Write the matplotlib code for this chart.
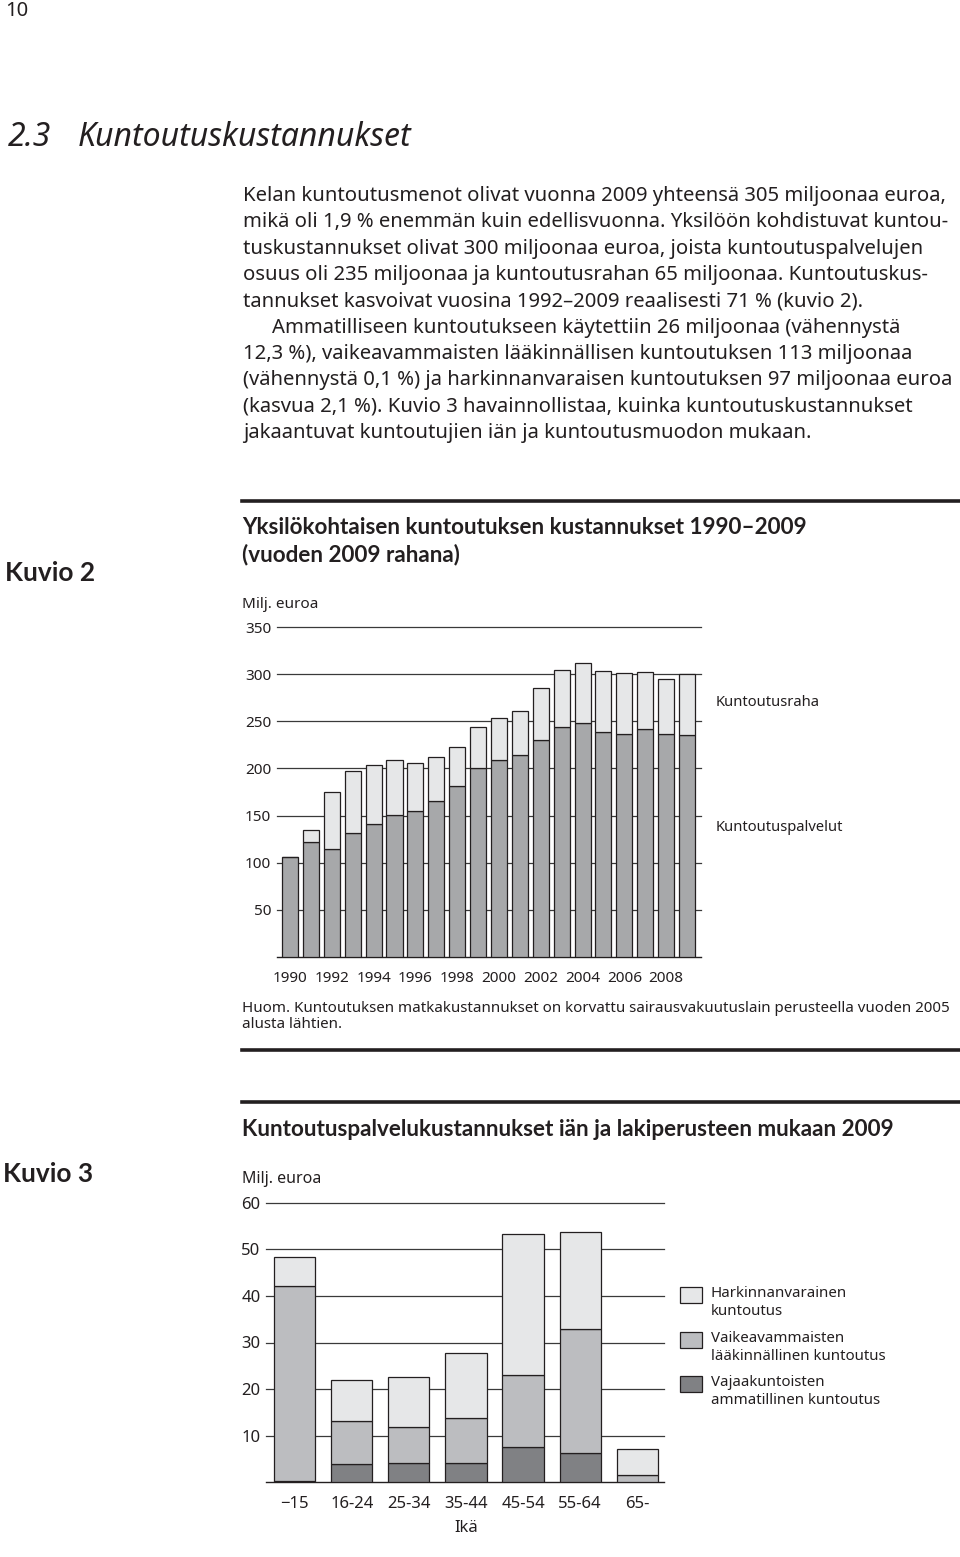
import numpy as np
import matplotlib
matplotlib.use("Agg")
import matplotlib.pyplot as plt
from matplotlib.patches import Rectangle

plt.rcParams['font.family'] = ['Noto Sans', 'DejaVu Sans']

# ---------------- data ----------------
years = list(range(1990, 2010))
year_labels = [str(y) for y in years[::2]]
palvelut = [106, 121.5, 115, 132, 141, 151, 155, 165, 181, 200,
            209, 214, 230, 244, 248, 239, 237, 242, 236, 235]
raha = [0, 13.5, 60, 65, 63, 58, 50.5, 47.5, 42, 44,
        44, 47, 55, 60, 64, 64, 64, 60.5, 58.5, 65]
yticks1 = [50, 100, 150, 200, 250, 300, 350]

age_groups = ['\u221215', '16-24', '25-34', '35-44', '45-54', '55-64', '65-']
vajaakuntoiset = [0.3, 3.9, 4.1, 4.1, 7.5, 6.2, 0.0]
vaikeavammaiset = [41.8, 9.3, 7.8, 9.6, 15.5, 26.6, 1.5]
harkinnanvarainen = [6.3, 8.8, 10.6, 14.1, 30.2, 21.0, 5.7]
yticks2 = [10, 20, 30, 40, 50, 60]

legend_labels = ['Harkinnanvarainen\nkuntoutus',
                 'Vaikeavammaisten\nlääkinnällinen kuntoutus',
                 'Vajaakuntoisten\nammatillinen kuntoutus']

body_p1 = ["Kelan kuntoutusmenot olivat vuonna 2009 yhteensä 305 miljoonaa euroa,",
           "mikä oli 1,9 % enemmän kuin edellisvuonna. Yksilöön kohdistuvat kuntou-",
           "tuskustannukset olivat 300 miljoonaa euroa, joista kuntoutuspalvelujen",
           "osuus oli 235 miljoonaa ja kuntoutusrahan 65 miljoonaa. Kuntoutuskus-",
           "tannukset kasvoivat vuosina 1992\u20132009 reaalisesti 71 % (kuvio 2)."]
body_p2 = ["Ammatilliseen kuntoutukseen käytettiin 26 miljoonaa (vähennystä",
           "12,3 %), vaikeavammaisten lääkinnällisen kuntoutuksen 113 miljoonaa",
           "(vähennystä 0,1 %) ja harkinnanvaraisen kuntoutuksen 97 miljoonaa euroa",
           "(kasvua 2,1 %). Kuvio 3 havainnollistaa, kuinka kuntoutuskustannukset",
           "jakaantuvat kuntoutujien iän ja kuntoutusmuodon mukaan."]

# ---------------- style ----------------
W, H = 960, 1557
EDGE = '#231f20'
GRID = '#3a3a3a'
C1_DARK = '#a7a8aa'
C1_LIGHT = '#e6e7e8'
C2_DARK = '#808184'
C2_MID = '#bcbdc0'
C2_LIGHT = '#e6e7e8'
TXT = '#231f20'
BOLD_FAMILY = ['Lato', 'Roboto', 'DejaVu Sans']

fig = plt.figure(figsize=(W / 100, H / 100), dpi=100)
renderer = fig.canvas.get_renderer()


def T(x, y, s, **kw):
    kw.setdefault('va', 'center')
    kw.setdefault('ha', 'left')
    kw.setdefault('color', TXT)
    return fig.text(x / W, 1 - y / H, s, **kw)


def fit_size(s, target_px, **kw):
    """font size so that string s spans target_px pixels"""
    t = fig.text(0, 0, s, fontsize=20, **kw)
    w = t.get_window_extent(renderer).width
    t.remove()
    return 20 * target_px / w


def hline(x0, x1, y, lw=2.6):
    fig.add_artist(plt.Line2D([x0 / W, x1 / W], [1 - y / H, 1 - y / H],
                              color=EDGE, lw=lw, transform=fig.transFigure))


def axes_px(x0, y0, x1, y1):
    return fig.add_axes([x0 / W, 1 - y1 / H, (x1 - x0) / W, (y1 - y0) / H])


def style_axes(ax, yt, fs, ypad):
    ax.set_yticks(yt)
    ax.set_yticklabels([str(v) for v in yt], fontsize=fs, color=TXT)
    ax.tick_params(axis='both', length=0)
    ax.tick_params(axis='y', pad=ypad)
    for s in ['top', 'left', 'right']:
        ax.spines[s].set_visible(False)
    ax.spines['bottom'].set_color(EDGE)
    ax.spines['bottom'].set_linewidth(1.0)
    ax.yaxis.grid(True, color=GRID, lw=0.9)
    for gl in ax.get_ygridlines():
        gl.set_clip_on(False)
    ax.set_axisbelow(True)
    ax.patch.set_visible(False)


# ---------------- page text ----------------
T(5, 11, '10', fontsize=14.5)
T(8, 138, '2.3', fontsize=23, style='italic')
T(78, 138, 'Kuntoutuskustannukset', fontsize=23, style='italic')

y = 196
step = 26.3
BODY_FS = 14.6
for line in body_p1:
    T(243, y, line, fontsize=BODY_FS)
    y += step
for i, line in enumerate(body_p2):
    T(272 if i == 0 else 243, y, line, fontsize=BODY_FS)
    y += step

# ---------------- Kuvio 2 ----------------
bkw = dict(family=BOLD_FAMILY, fontweight='bold')
title1 = 'Yksilökohtaisen kuntoutuksen kustannukset 1990\u20132009'
title2 = 'Kuntoutuspalvelukustannukset iän ja lakiperusteen mukaan 2009'
fs_t1 = fit_size(title1, 566, **bkw)
fs_t2 = fit_size(title2, 654, **bkw)
fs_kuvio = fit_size('Kuvio 2', 90, **bkw)

hline(242, 960, 500.5)
T(5, 573, 'Kuvio 2', fontsize=fs_kuvio, **bkw)
T(242, 527, title1, fontsize=fs_t1, **bkw)
T(242, 555, '(vuoden 2009 rahana)', fontsize=fs_t1, **bkw)
T(242, 604, 'Milj. euroa', fontsize=11)

ax1 = axes_px(276.7, 627, 701, 957)
x1 = np.arange(len(years))
ax1.bar(x1, palvelut, width=0.77, color=C1_DARK, edgecolor=EDGE, lw=0.9, zorder=3)
ax1.bar(x1, raha, bottom=palvelut, width=0.77, color=C1_LIGHT, edgecolor=EDGE,
        lw=0.9, zorder=3)
ax1.set_xlim(-0.64, len(years) - 1 + 0.67)
ax1.set_ylim(0, 350)
style_axes(ax1, yticks1, 11, 4)
ax1.set_xticks(x1[::2])
ax1.set_xticklabels(year_labels, fontsize=11, color=TXT)
ax1.tick_params(axis='x', pad=10)

T(716, 702, 'Kuntoutusraha', fontsize=10.6)
T(716, 828, 'Kuntoutuspalvelut', fontsize=10.6)

T(242, 1008, 'Huom. Kuntoutuksen matkakustannukset on korvattu sairausvakuutuslain '
  'perusteella vuoden 2005', fontsize=10.9)
T(242, 1025, 'alusta lähtien.', fontsize=10.9)
hline(242, 960, 1050)

# ---------------- Kuvio 3 ----------------
hline(242, 960, 1101.7)
T(242, 1129, title2, fontsize=fs_t2, **bkw)
T(3, 1174, 'Kuvio 3', fontsize=fs_kuvio, **bkw)
T(242, 1179, 'Milj. euroa', fontsize=11.5)

ax2 = axes_px(266, 1202.7, 664, 1482.3)
x2 = np.arange(len(age_groups))
b_dark = np.array(vajaakuntoiset)
b_mid = np.array(vaikeavammaiset)
b_light = np.array(harkinnanvarainen)
ax2.bar(x2, b_dark, width=0.72, color=C2_DARK, edgecolor=EDGE, lw=0.9, zorder=3)
ax2.bar(x2, b_mid, bottom=b_dark, width=0.72, color=C2_MID, edgecolor=EDGE,
        lw=0.9, zorder=3)
ax2.bar(x2, b_light, bottom=b_dark + b_mid, width=0.72, color=C2_LIGHT,
        edgecolor=EDGE, lw=0.9, zorder=3)
ax2.set_xlim(-0.504, len(age_groups) - 1 + 0.47)
ax2.set_ylim(0, 60)
style_axes(ax2, yticks2, 12, 4)
ax2.set_xticks(x2)
ax2.set_xticklabels(age_groups, fontsize=12, color=TXT)
ax2.tick_params(axis='x', pad=10)
T(466, 1528, 'Ikä', fontsize=12, ha='center')

# legend (manual)
leg_colors = [C2_LIGHT, C2_MID, C2_DARK]
for i, (lab, col) in enumerate(zip(legend_labels, leg_colors)):
    top = 1287 + i * 44.7
    fig.add_artist(Rectangle((680 / W, 1 - (top + 16) / H), 22 / W, 16 / H,
                             facecolor=col, edgecolor=EDGE, lw=0.9,
                             transform=fig.transFigure))
    l1, l2 = lab.split('\n')
    T(711, top + 6.5, l1, fontsize=10.8)
    T(711, top + 24.5, l2, fontsize=10.8)

fig.savefig('out.png', dpi=100, facecolor='white')
